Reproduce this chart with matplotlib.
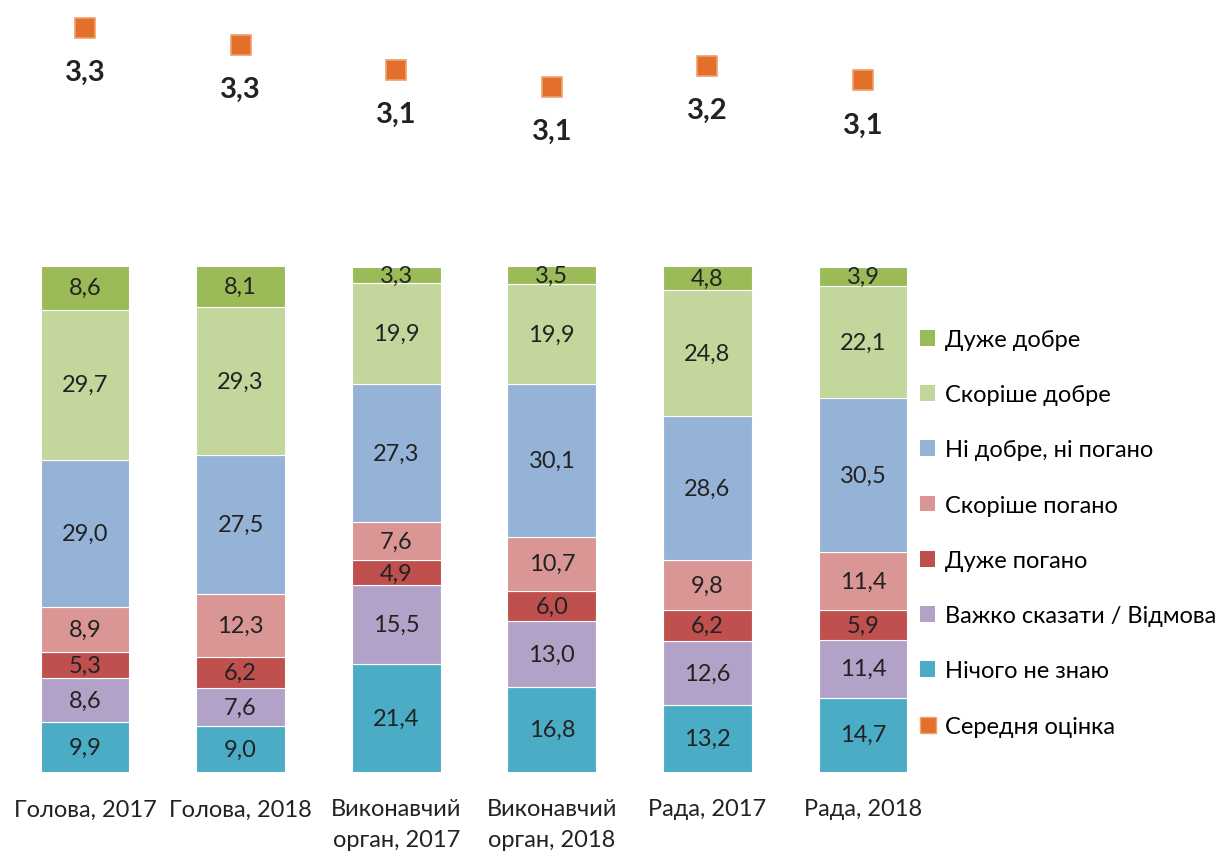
import matplotlib
matplotlib.use("Agg")
import matplotlib.pyplot as plt
import numpy as np
from matplotlib.patches import Patch
from matplotlib.lines import Line2D

plt.rcParams['font.family'] = ['Lato', 'DejaVu Sans']

categories = ["Голова, 2017", "Голова, 2018", "Виконавчий\nорган, 2017",
              "Виконавчий\nорган, 2018", "Рада, 2017", "Рада, 2018"]

# stacked from the bottom up
nothing_known = [9.9, 9.0, 21.4, 16.8, 13.2, 14.7]
hard_to_say = [8.6, 7.6, 15.5, 13.0, 12.6, 11.4]
very_bad = [5.3, 6.2, 4.9, 6.0, 6.2, 5.9]
rather_bad = [8.9, 12.3, 7.6, 10.7, 9.8, 11.4]
neutral = [29.0, 27.5, 27.3, 30.1, 28.6, 30.5]
rather_good = [29.7, 29.3, 19.9, 19.9, 24.8, 22.1]
very_good = [8.6, 8.1, 3.3, 3.5, 4.8, 3.9]

mean_score = [3.34, 3.26, 3.14, 3.06, 3.16, 3.09]

series = [
    ("Нічого не знаю", nothing_known, "#4BACC6"),
    ("Важко сказати / Відмова", hard_to_say, "#B3A2C7"),
    ("Дуже погано", very_bad, "#C0504D"),
    ("Скоріше погано", rather_bad, "#D99694"),
    ("Ні добре, ні погано", neutral, "#95B3D7"),
    ("Скоріше добре", rather_good, "#C3D69B"),
    ("Дуже добре", very_good, "#9BBB59"),
]

W, H = 1226, 854
fig = plt.figure(figsize=(W / 100, H / 100), dpi=100)
ax = fig.add_axes([7.2 / W, (H - 773) / H, (940.8 - 7.2) / W, (773 - 14) / H])

x = np.arange(len(categories))
bottom = np.zeros(len(categories))
for name, vals, color in series:
    vals = np.array(vals)
    ax.bar(x, vals, 0.57, bottom=bottom, color=color, edgecolor="white",
           linewidth=0.8, zorder=2)
    for xi, b, v in zip(x, bottom, vals):
        ax.text(xi, b + v / 2, f"{v:.1f}".replace(".", ","), ha="center",
                va="center", fontsize=17, color="#222222", zorder=3)
    bottom += vals

ax.set_xlim(-0.5, len(categories) - 0.5)
ax.set_ylim(0, 150)
ax.set_xticks(x)
ax.set_xticklabels(categories, fontsize=17, color="#222222", linespacing=1.55)
ax.tick_params(axis="x", length=0, pad=19)
ax.set_yticks([])
for s in ax.spines.values():
    s.set_visible(False)

# average score on its own axis
ax2 = ax.twinx()
ax2.set_ylim(-0.203, 3.411)
ax2.plot(x, mean_score, linestyle="none", marker="s", markersize=14,
         markerfacecolor="#E2702B", markeredgecolor="#F0A070",
         markeredgewidth=1.2, zorder=4)
for xi, v in zip(x, mean_score):
    ax2.annotate(f"{v:.1f}".replace(".", ","), (xi, v), xytext=(0, -32),
                 textcoords="offset points", ha="center", va="center",
                 fontsize=21, fontweight="bold", color="#222222")
ax2.set_yticks([])
for s in ax2.spines.values():
    s.set_visible(False)

handles = [Patch(facecolor=c, edgecolor="none") for _, _, c in reversed(series)]
labels = [n for n, _, _ in reversed(series)]
handles.append(Line2D([], [], linestyle="none", marker="s", markersize=12,
                      markerfacecolor="#E2702B", markeredgecolor="#F0A070"))
labels.append("Середня оцінка")
fig.legend(handles, labels, loc="upper left", bbox_to_anchor=(920 / W, 1 - 330 / H),
           frameon=False, fontsize=17, handlelength=0.65, handleheight=0.65,
           handletextpad=0.4, labelspacing=1.45, borderaxespad=0, borderpad=0)

fig.savefig("out.png", dpi=100)
